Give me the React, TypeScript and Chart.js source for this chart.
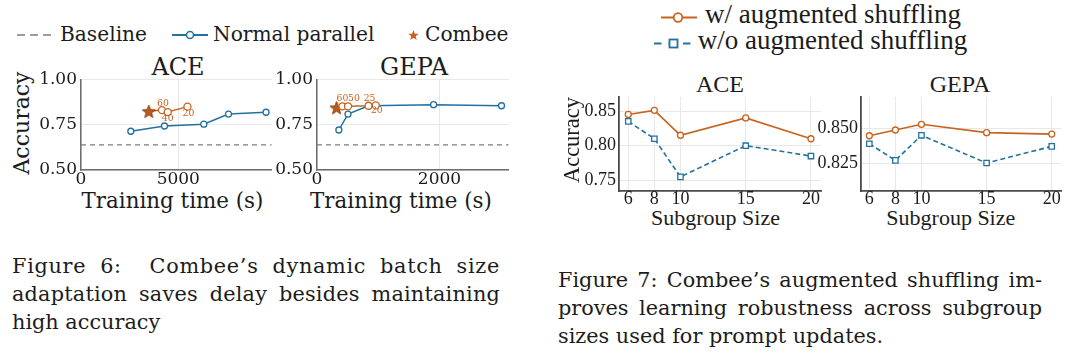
import React, { useEffect, useRef } from 'react';
import { Chart, registerables } from 'chart.js';

Chart.register(...registerables);

// ---------------- Figure 6 data ----------------
const ACE_NORMAL_TIME = [2560, 4290, 6310, 7580, 9510];
const ACE_NORMAL_ACC = [0.714, 0.743, 0.753, 0.809, 0.819];
const ACE_COMBEE_TIME = [3485, 4160, 4460, 5470];
const ACE_COMBEE_ACC = [0.824, 0.831, 0.82, 0.85];
const ACE_COMBEE_BATCH = ['', '60', '40', '20'];
const ACE_BASELINE = 0.639;
const ACE_TIME_RANGE = [0, 9800];
const ACE_TIME_TICKS = [0, 5000];

const GEPA_NORMAL_TIME = [357, 506, 842, 1904, 3013];
const GEPA_NORMAL_ACC = [0.721, 0.809, 0.855, 0.861, 0.855];
const GEPA_COMBEE_TIME = [320, 416, 506, 842, 960];
const GEPA_COMBEE_ACC = [0.844, 0.852, 0.852, 0.855, 0.857];
const GEPA_COMBEE_BATCH = ['', '60', '50', '25', '20'];
const GEPA_BASELINE = 0.639;
const GEPA_TIME_RANGE = [0, 3130];
const GEPA_TIME_TICKS = [0, 2000];

const FIG6_ACC_RANGE = [0.5, 1.0];
const FIG6_ACC_TICKS = [0.5, 0.75, 1.0];

// ---------------- Figure 7 data ----------------
const SUBGROUP_SIZES = [6, 8, 10, 15, 20];
const ACE_WITH_SHUFFLE = [0.845, 0.851, 0.815, 0.84, 0.81];
const ACE_WITHOUT_SHUFFLE = [0.835, 0.81, 0.755, 0.8, 0.785];
const GEPA_WITH_SHUFFLE = [0.8447, 0.8488, 0.8529, 0.8469, 0.8459];
const GEPA_WITHOUT_SHUFFLE = [0.839, 0.8271, 0.845, 0.8252, 0.8371];
const ACE7_SIZE_RANGE = [5.29, 20.77];
const GEPA7_SIZE_RANGE = [5.36, 20.71];
const ACE7_ACC_RANGE = [0.7346, 0.8702];
const ACE7_ACC_TICKS = [0.75, 0.8, 0.85];
const GEPA7_ACC_RANGE = [0.8052, 0.8724];
const GEPA7_ACC_TICKS = [0.825, 0.85];

// ---------------- styles ----------------
const ORANGE = '#c8631f';
const BLUE = '#22719f';
const GRAY = '#7c7c7c';
const GRID = '#e8e8e8';
const INK = '#1c1c1c';
const AXIS6 = '#6e6e6e';
const AXIS7 = '#4a4a4a';
const SERIF6 = '"DejaVu Serif", serif';
const SERIF7 = '"Liberation Serif", serif';

const ACE_LABEL_OFFSETS = [[0, 0], [1, -7], [0, 7], [1, 7]];
const GEPA_LABEL_OFFSETS = [[0, 0], [0, -8], [6, -8], [1, -7], [1, 5]];

type Box = { L: number; T: number; R: number; B: number; yW: number; xH: number; padTop: number; padRight: number };

function geometry(b: Box) {
  const left = b.L - b.yW;
  const top = b.T - b.padTop;
  return { left, top, width: b.R + b.padRight - left, height: b.B + b.xH - top };
}

function makeStarCanvas(size: number, fill: string, stroke: string) {
  const c = document.createElement('canvas');
  c.width = size;
  c.height = size;
  const ctx = c.getContext('2d')!;
  const cx = size / 2;
  const cy = size / 2 + 0.6;
  const R = size / 2 - 0.6;
  const r = R * 0.42;
  ctx.beginPath();
  for (let i = 0; i < 10; i++) {
    const ang = -Math.PI / 2 + (i * Math.PI) / 5;
    const rad = i % 2 === 0 ? R : r;
    ctx.lineTo(cx + rad * Math.cos(ang), cy + rad * Math.sin(ang));
  }
  ctx.closePath();
  ctx.fillStyle = fill;
  ctx.fill();
  ctx.strokeStyle = stroke;
  ctx.lineWidth = 0.9;
  ctx.stroke();
  return c;
}

const pointLabelPlugin = {
  id: 'pointLabels',
  afterDatasetsDraw(chart: any) {
    const ctx = chart.ctx;
    chart.data.datasets.forEach((ds: any, i: number) => {
      const labels = ds.pointLabels;
      if (!labels) return;
      const meta = chart.getDatasetMeta(i);
      meta.data.forEach((pt: any, j: number) => {
        const t = labels[j];
        if (!t) return;
        const off = ds.pointLabelOffsets[j];
        ctx.save();
        ctx.font = '9.3px "DejaVu Serif"';
        ctx.fillStyle = ds.borderColor;
        ctx.textAlign = 'center';
        ctx.textBaseline = 'middle';
        ctx.fillText(t, pt.x + off[0], pt.y + off[1]);
        ctx.restore();
      });
    });
  },
};

function axis(o: {
  range: number[];
  ticks: number[];
  fmt: (v: number) => string;
  family: string;
  size: number;
  padding: number;
  color: string;
  width: number;
  fitKey: 'width' | 'height';
  fitVal: number;
}) {
  return {
    type: 'linear',
    min: o.range[0],
    max: o.range[1],
    afterBuildTicks: (s: any) => {
      s.ticks = o.ticks.map((v) => ({ value: v }));
    },
    afterFit: (s: any) => {
      s[o.fitKey] = o.fitVal;
    },
    ticks: {
      callback: (v: any) => o.fmt(Number(v)),
      font: { family: o.family, size: o.size, lineHeight: 1 },
      color: INK,
      padding: o.padding,
      maxRotation: 0,
      autoSkip: false,
    },
    grid: { color: GRID, lineWidth: 1, drawTicks: false },
    border: { color: o.color, width: o.width },
  };
}

function fig6Config(p: any, box: Box) {
  const star = makeStarCanvas(15, '#bd5b1b', '#7f3a0e');
  return {
    type: 'line',
    data: {
      datasets: [
        {
          label: 'Combee',
          data: p.combT.map((t: number, i: number) => ({ x: t, y: p.combA[i] })),
          borderColor: ORANGE,
          backgroundColor: '#ffffff',
          borderWidth: 1.5,
          pointStyle: p.batch.map((b: string) => (b ? 'circle' : star)),
          pointRadius: p.batch.map((b: string) => (b ? 3.5 : 7)),
          pointBorderWidth: 1.3,
          pointBackgroundColor: '#ffffff',
          pointBorderColor: ORANGE,
          pointLabels: p.batch,
          pointLabelOffsets: p.offsets,
        },
        {
          label: 'Normal parallel',
          data: p.normT.map((t: number, i: number) => ({ x: t, y: p.normA[i] })),
          borderColor: BLUE,
          backgroundColor: '#ffffff',
          borderWidth: 1.5,
          pointStyle: 'circle',
          pointRadius: 3,
          pointBorderWidth: 1.3,
          pointBackgroundColor: '#ffffff',
          pointBorderColor: BLUE,
        },
        {
          label: 'Baseline',
          data: p.tRange.map((t: number) => ({ x: t, y: p.baseline })),
          borderColor: GRAY,
          borderWidth: 1.2,
          borderDash: [5, 4],
          pointRadius: 0,
        },
      ],
    },
    options: {
      responsive: false,
      animation: false,
      layout: { padding: { top: box.padTop, right: box.padRight, left: 0, bottom: 0 } },
      plugins: { legend: { display: false }, tooltip: { enabled: false }, title: { display: false } },
      scales: {
        x: axis({
          range: p.tRange, ticks: p.tTicks, fmt: (v) => String(Math.round(v)), family: SERIF6, size: 17,
          padding: 1.5, color: AXIS6, width: 1.5, fitKey: 'height', fitVal: box.xH,
        }),
        y: axis({
          range: FIG6_ACC_RANGE, ticks: FIG6_ACC_TICKS, fmt: (v) => v.toFixed(2), family: SERIF6, size: 17,
          padding: 4, color: AXIS6, width: 1.5, fitKey: 'width', fitVal: box.yW,
        }),
      },
    },
    plugins: [pointLabelPlugin],
  };
}

function fig7Config(p: any, box: Box) {
  return {
    type: 'line',
    data: {
      datasets: [
        {
          label: 'w/ augmented shuffling',
          data: SUBGROUP_SIZES.map((s, i) => ({ x: s, y: p.withS[i] })),
          borderColor: ORANGE,
          borderWidth: 1.7,
          pointStyle: 'circle',
          pointRadius: 3,
          pointBorderWidth: 1.3,
          pointBackgroundColor: '#ffffff',
          pointBorderColor: ORANGE,
        },
        {
          label: 'w/o augmented shuffling',
          data: SUBGROUP_SIZES.map((s, i) => ({ x: s, y: p.withoutS[i] })),
          borderColor: BLUE,
          borderWidth: 1.6,
          borderDash: [5, 3],
          pointStyle: 'rect',
          pointRadius: 3.8,
          pointBorderWidth: 1.3,
          pointBackgroundColor: '#ffffff',
          pointBorderColor: BLUE,
        },
      ],
    },
    options: {
      responsive: false,
      animation: false,
      layout: { padding: { top: box.padTop, right: box.padRight, left: 0, bottom: 0 } },
      plugins: { legend: { display: false }, tooltip: { enabled: false }, title: { display: false } },
      scales: {
        x: axis({
          range: p.xRange, ticks: SUBGROUP_SIZES, fmt: (v) => String(v), family: SERIF7, size: 18,
          padding: -1, color: AXIS7, width: 1.8, fitKey: 'height', fitVal: box.xH,
        }),
        y: axis({
          range: p.yRange, ticks: p.yTicks, fmt: (v) => v.toFixed(p.decimals), family: SERIF7, size: 18,
          padding: 3, color: AXIS7, width: 1.8, fitKey: 'width', fitVal: box.yW,
        }),
      },
    },
  };
}

function ChartCanvas({ box, make }: { box: Box; make: () => any }) {
  const ref = useRef<HTMLCanvasElement>(null);
  const g = geometry(box);
  useEffect(() => {
    const chart = new Chart(ref.current as HTMLCanvasElement, make());
    return () => chart.destroy();
  }, []);
  return (
    <canvas
      ref={ref}
      width={g.width}
      height={g.height}
      style={{ position: 'absolute', left: g.left, top: g.top, width: g.width, height: g.height }}
    />
  );
}

function Txt(props: { x: number; y: number; text: string; family: string; size: number; center?: boolean; rotate?: boolean; color?: string }) {
  const { x, y, text, family, size, center, rotate, color } = props;
  let transform = 'none';
  if (rotate) transform = 'translate(-50%, -50%) rotate(-90deg)';
  else if (center) transform = 'translateX(-50%)';
  return (
    <div
      style={{
        position: 'absolute',
        left: x,
        top: y,
        transform,
        whiteSpace: 'nowrap',
        fontFamily: family,
        fontSize: size,
        lineHeight: 1,
        color: color || INK,
      }}
    >
      {text}
    </div>
  );
}

function StarIcon({ cx, cy, R, fill }: { cx: number; cy: number; R: number; fill: string }) {
  const pts: string[] = [];
  for (let i = 0; i < 10; i++) {
    const ang = -Math.PI / 2 + (i * Math.PI) / 5;
    const rad = i % 2 === 0 ? R : R * 0.42;
    pts.push(`${(R + 1 + rad * Math.cos(ang)).toFixed(2)},${(R + 1 + rad * Math.sin(ang)).toFixed(2)}`);
  }
  return (
    <svg style={{ position: 'absolute', left: cx - R - 1, top: cy - R - 1 }} width={2 * R + 2} height={2 * R + 2}>
      <polygon points={pts.join(' ')} fill={fill} />
    </svg>
  );
}

const BOX6_ACE: Box = { L: 81, T: 79, R: 275, B: 170, yW: 50, xH: 26, padTop: 12, padRight: 5 };
const BOX6_GEPA: Box = { L: 317, T: 79, R: 512, B: 170, yW: 50, xH: 26, padTop: 12, padRight: 5 };
const BOX7_ACE: Box = { L: 619, T: 97, R: 821, B: 191, yW: 45, xH: 26, padTop: 12, padRight: 12 };
const BOX7_GEPA: Box = { L: 861, T: 97, R: 1061, B: 191, yW: 50, xH: 26, padTop: 12, padRight: 12 };

const captionLine = (text: string, justify: boolean, spacing = 0) => (
  <div
    style={{
      textAlign: justify ? 'justify' : 'left',
      textAlignLast: justify ? 'justify' : 'left',
      letterSpacing: spacing,
      height: 28,
    } as any}
  >
    {text}
  </div>
);

export default function App() {
  return (
    <div style={{ position: 'absolute', left: 0, top: 0, width: 1080, height: 360, background: '#ffffff', overflow: 'hidden' }}>
      {/* Figure 6 legend */}
      <svg style={{ position: 'absolute', left: 17, top: 29 }} width={37} height={12}>
        <line x1={0} y1={6} x2={37} y2={6} stroke={GRAY} strokeWidth={1.5} strokeDasharray="8 5" />
      </svg>
      <Txt x={60} y={24.4} text="Baseline" family={SERIF6} size={20.2} />
      <svg style={{ position: 'absolute', left: 172, top: 29 }} width={36} height={12}>
        <line x1={0} y1={6} x2={36} y2={6} stroke={BLUE} strokeWidth={2} />
        <circle cx={18} cy={6} r={3.5} fill="#ffffff" stroke={BLUE} strokeWidth={1.5} />
      </svg>
      <Txt x={213} y={24.4} text="Normal parallel" family={SERIF6} size={20.2} />
      <StarIcon cx={413} cy={35} R={5.5} fill={ORANGE} />
      <Txt x={425} y={24.4} text="Combee" family={SERIF6} size={20.2} />

      {/* Figure 6 titles & axis labels */}
      <Txt x={178} y={54.7} text="ACE" family={SERIF6} size={24} center />
      <Txt x={414} y={54.7} text="GEPA" family={SERIF6} size={24} center />
      <Txt x={21.5} y={123.3} text="Accuracy" family={SERIF6} size={22} rotate />
      <Txt x={172.5} y={190.2} text="Training time (s)" family={SERIF6} size={21.4} center />
      <Txt x={401} y={190.2} text="Training time (s)" family={SERIF6} size={21.4} center />

      <ChartCanvas
        box={BOX6_ACE}
        make={() =>
          fig6Config(
            {
              normT: ACE_NORMAL_TIME, normA: ACE_NORMAL_ACC, combT: ACE_COMBEE_TIME, combA: ACE_COMBEE_ACC,
              batch: ACE_COMBEE_BATCH, offsets: ACE_LABEL_OFFSETS, baseline: ACE_BASELINE,
              tRange: ACE_TIME_RANGE, tTicks: ACE_TIME_TICKS,
            },
            BOX6_ACE
          )
        }
      />
      <ChartCanvas
        box={BOX6_GEPA}
        make={() =>
          fig6Config(
            {
              normT: GEPA_NORMAL_TIME, normA: GEPA_NORMAL_ACC, combT: GEPA_COMBEE_TIME, combA: GEPA_COMBEE_ACC,
              batch: GEPA_COMBEE_BATCH, offsets: GEPA_LABEL_OFFSETS, baseline: GEPA_BASELINE,
              tRange: GEPA_TIME_RANGE, tTicks: GEPA_TIME_TICKS,
            },
            BOX6_GEPA
          )
        }
      />

      {/* Figure 7 legend */}
      <svg style={{ position: 'absolute', left: 661, top: 11 }} width={36} height={13}>
        <line x1={0} y1={6.5} x2={36} y2={6.5} stroke={ORANGE} strokeWidth={2} />
        <circle cx={17} cy={6.5} r={4.3} fill="#ffffff" stroke={ORANGE} strokeWidth={1.8} />
      </svg>
      <Txt x={705} y={1.4} text="w/ augmented shuffling" family={SERIF7} size={27} />
      <svg style={{ position: 'absolute', left: 654, top: 37 }} width={37} height={13}>
        <line x1={0} y1={6.5} x2={37} y2={6.5} stroke={BLUE} strokeWidth={2} strokeDasharray="7.5 7" />
        <rect x={15.5} y={2.5} width={8} height={8} fill="#ffffff" stroke={BLUE} strokeWidth={1.8} />
      </svg>
      <Txt x={697.7} y={27.4} text="w/o augmented shuffling" family={SERIF7} size={27} />

      {/* Figure 7 titles & axis labels */}
      <Txt x={720} y={71.6} text="ACE" family={SERIF7} size={24} center />
      <Txt x={960} y={71.6} text="GEPA" family={SERIF7} size={24} center />
      <Txt x={572.4} y={140} text="Accuracy" family={SERIF7} size={22.5} rotate />
      <Txt x={715.5} y={207.3} text="Subgroup Size" family={SERIF7} size={22} center />
      <Txt x={950.8} y={207.3} text="Subgroup Size" family={SERIF7} size={22} center />

      <ChartCanvas
        box={BOX7_ACE}
        make={() =>
          fig7Config(
            { withS: ACE_WITH_SHUFFLE, withoutS: ACE_WITHOUT_SHUFFLE, xRange: ACE7_SIZE_RANGE, yRange: ACE7_ACC_RANGE, yTicks: ACE7_ACC_TICKS, decimals: 2 },
            BOX7_ACE
          )
        }
      />
      <ChartCanvas
        box={BOX7_GEPA}
        make={() =>
          fig7Config(
            { withS: GEPA_WITH_SHUFFLE, withoutS: GEPA_WITHOUT_SHUFFLE, xRange: GEPA7_SIZE_RANGE, yRange: GEPA7_ACC_RANGE, yTicks: GEPA7_ACC_TICKS, decimals: 3 },
            BOX7_GEPA
          )
        }
      />

      {/* Captions */}
      <div style={{ position: 'absolute', left: 12, top: 252.1, width: 488, fontFamily: SERIF6, fontSize: 20.8, lineHeight: '28px', color: INK }}>
        {captionLine('Figure 6:\u00a0 Combee\u2019s dynamic batch size', true, 0.7)}
        {captionLine('adaptation saves delay besides maintaining', true, 0.2)}
        {captionLine('high accuracy', false)}
      </div>
      <div style={{ position: 'absolute', left: 558, top: 265.5, width: 484, fontFamily: SERIF6, fontSize: 20.8, lineHeight: '28px', color: INK }}>
        {captionLine('Figure 7: Combee\u2019s augmented shuffling im-', true)}
        {captionLine('proves learning robustness across subgroup', true)}
        {captionLine('sizes used for prompt updates.', false)}
      </div>
    </div>
  );
}
